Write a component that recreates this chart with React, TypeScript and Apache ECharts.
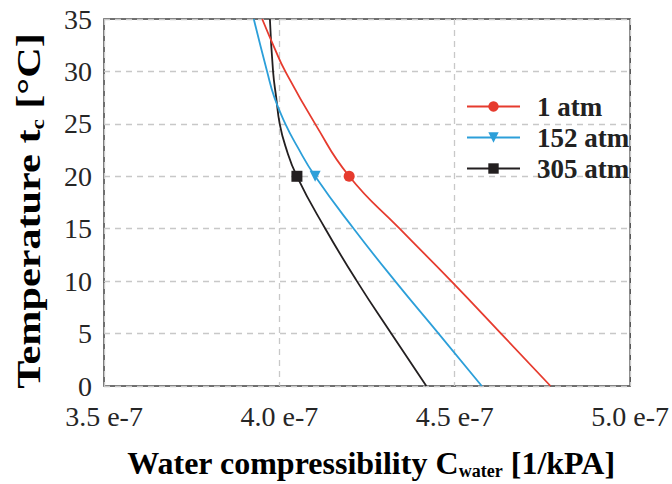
import React, { useEffect, useRef } from "react";
import * as echarts from "echarts";

// Temperature (°C) sample points, ascending
const temps1 = [0, 5, 10, 15, 20, 25, 30, 32.4, 35];
const comp1atm = [4.773, 4.632, 4.49, 4.343, 4.199, 4.102, 4.017, 3.984, 3.951];

const temps152 = [0, 5, 10, 15, 20, 22.9, 25, 27.5, 30, 35];
const comp152atm = [4.577, 4.454, 4.33, 4.212, 4.102, 4.05, 4.017, 3.986, 3.965, 3.927];

const temps305 = [0, 5, 10, 15, 20, 22.9, 25, 27.5, 30, 35];
const comp305atm = [4.419, 4.319, 4.221, 4.131, 4.05, 4.017, 4.001, 3.991, 3.982, 3.973];

const seriesNames = ["1 atm", "152 atm", "305 atm"];
const markerTemp = 20;

const xTicks = [3.5, 4.0, 4.5, 5.0];

const FONT = "'Liberation Serif', 'Times New Roman', serif";
const TICK_FONT = "Liberation Serif";

function build(temps: number[], comps: number[]) {
  return temps.map((t, i) =>
    t === markerTemp
      ? { value: [comps[i], t], symbolSize: 11 }
      : { value: [comps[i], t] }
  );
}

const richTitle = (size: number) => ({
  b: {
    fontFamily: FONT,
    fontWeight: "bold",
    fontSize: size,
    lineHeight: size + 2,
    color: "#222",
  },
  s: {
    fontFamily: FONT,
    fontWeight: "bold",
    fontSize: Math.round(size * 0.55),
    lineHeight: Math.round(size * 0.5),
    verticalAlign: "bottom",
    color: "#222",
  },
});

export default function App() {
  const ref = useRef<HTMLDivElement>(null);
  useEffect(() => {
    if (!ref.current) return;
    const chart = echarts.init(ref.current, undefined, { renderer: "svg" });
    const colors = ["#e63b2e", "#2c9fd9", "#231f20"];
    const symbols = ["circle", "path://M0,0L10,0L5,9Z", "rect"];
    const datas = [
      build(temps1, comp1atm),
      build(temps152, comp152atm),
      build(temps305, comp305atm),
    ];
    chart.setOption({
      animation: false,
      grid: {
        left: 104,
        right: 40,
        top: 19,
        bottom: 98,
        show: true,
        borderColor: "#404040",
        borderWidth: 1.5,
      },
      graphic: [
        {
          type: "text",
          x: 371,
          y: 463,
          style: {
            text: "{b|Water compressibility C}{s|water}{b| [1/kPA]}",
            rich: richTitle(32),
            align: "center",
            verticalAlign: "middle",
          },
        },
        {
          type: "text",
          x: 29,
          y: 211,
          rotation: Math.PI / 2,
          scaleX: 1.28,
          style: {
            text: "{b|Temperature t}{s|c}{b| [°C]}",
            rich: richTitle(33),
            align: "center",
            verticalAlign: "middle",
          },
        },
      ],
      legend: {
        orient: "vertical",
        left: 466,
        top: 93,
        padding: 0,
        itemWidth: 53,
        itemHeight: 13,
        itemGap: 4,
        data: seriesNames,
        textStyle: {
          fontFamily: FONT,
          fontWeight: "bold",
          fontSize: 27,
          color: "#222",
          padding: [0, 0, 0, 12],
        },
      },
      xAxis: {
        type: "value",
        min: xTicks[0],
        max: xTicks[xTicks.length - 1],
        interval: 0.5,
        axisLine: { show: false },
        axisTick: { show: false },
        splitLine: {
          show: true,
          lineStyle: { color: "#c8c8c8", type: [6, 5], width: 1.3 },
        },
        axisLabel: {
          margin: 16,
          fontFamily: TICK_FONT,
          fontSize: 28,
          color: "#262626",
          formatter: (v: number) => v.toFixed(1) + " e-7",
        },
      },
      yAxis: {
        type: "value",
        min: 0,
        max: 35,
        interval: 5,
        axisLine: { show: false },
        axisTick: { show: false },
        splitLine: {
          show: true,
          lineStyle: { color: "#c8c8c8", type: [6, 5], width: 1.3 },
        },
        axisLabel: {
          margin: 12,
          fontFamily: TICK_FONT,
          fontSize: 28,
          color: "#262626",
        },
      },
      series: seriesNames.map((name, i) => ({
        name,
        type: "line",
        data: datas[i],
        smooth: 0.5,
        symbol: symbols[i],
        symbolSize: 0,
        showSymbol: true,
        showAllSymbol: true,
        color: colors[i],
        lineStyle: { color: colors[i], width: 1.8 },
        itemStyle: { color: colors[i] },
        z: 5 - i,
      })),
    });
    return () => chart.dispose();
  }, []);
  return (
    <div
      ref={ref}
      style={{ position: "absolute", left: 0, top: 0, width: 672, height: 484 }}
    />
  );
}
